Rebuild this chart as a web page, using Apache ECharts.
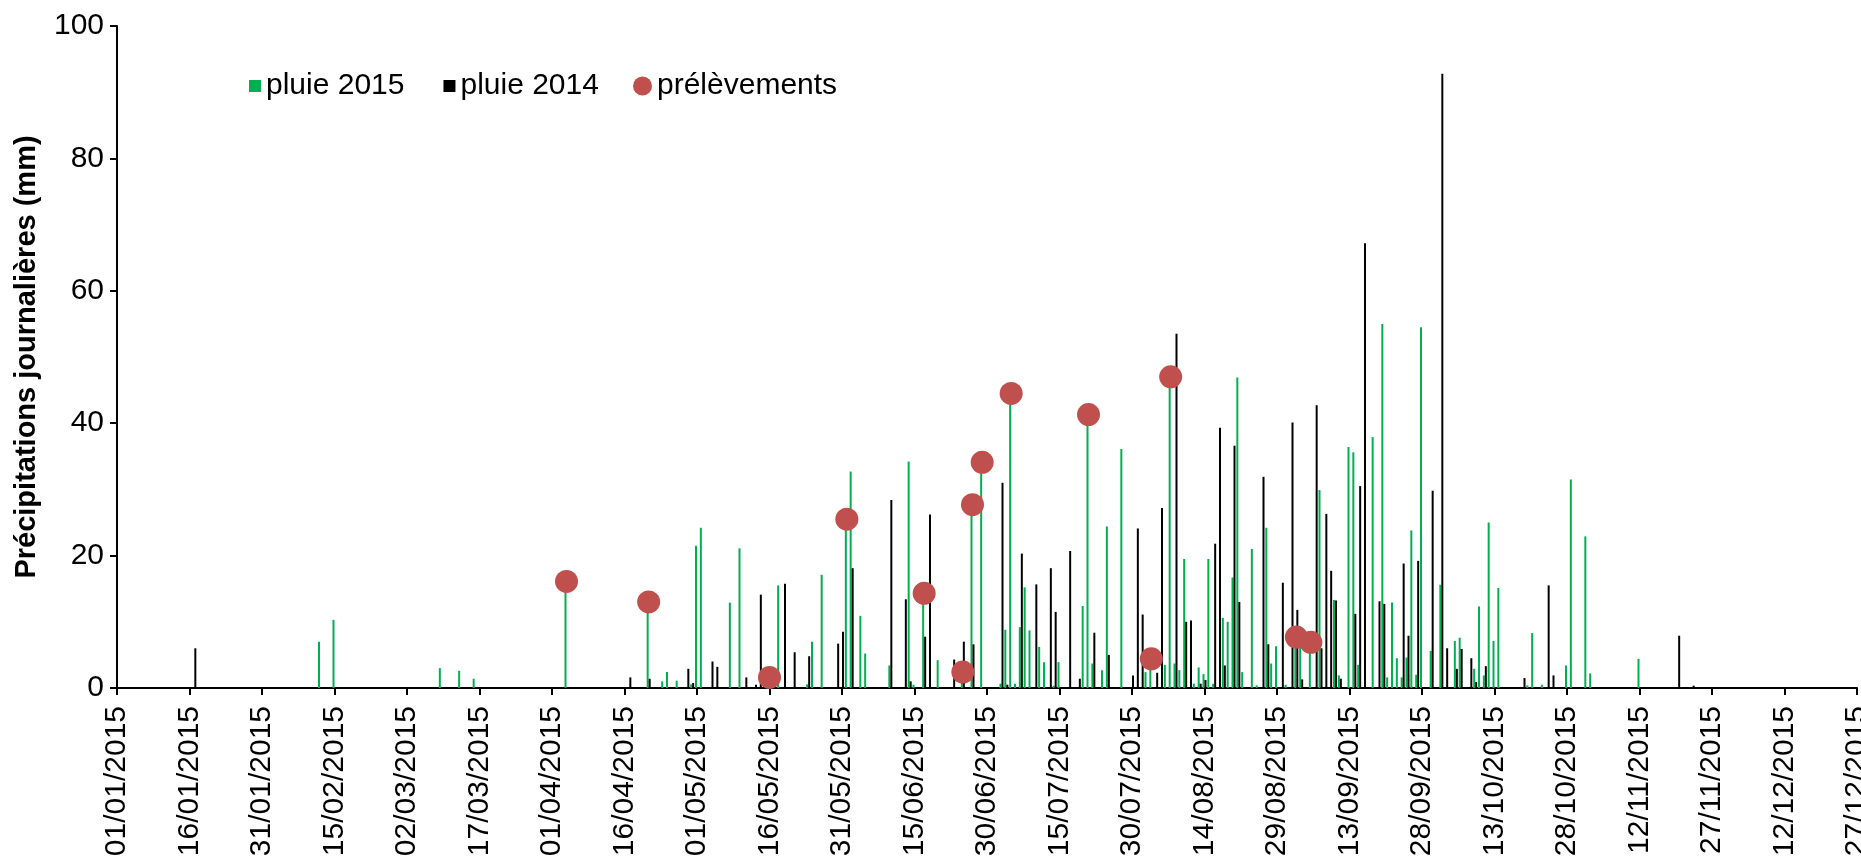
<!DOCTYPE html>
<html>
<head>
<meta charset="utf-8">
<script src="https://cdn.jsdelivr.net/npm/echarts/dist/echarts.min.js"></script>
<style>
html,body{margin:0;padding:0;background:#ffffff;}
#chart{width:1861px;height:857px;}
</style>
</head>
<body>
<div id="chart"></div>
<script>
const YEAR = 2015;

// Daily rainfall 2015 (mm) — [dd/mm, value]
const rain2015 = [
  ['12/02',7.0],['15/02',10.3],['09/03',3.0],['13/03',2.6],['16/03',1.4],['04/04',16.1],['21/04',13.0],
  ['24/04',1.0],['25/04',2.4],['27/04',1.1],['30/04',0.55],['01/05',21.5],['02/05',24.2],['08/05',12.9],
  ['10/05',21.1],['16/05',1.6],['18/05',15.5],['24/05',0.55],['25/05',7.0],['27/05',17.1],['01/06',25.5],
  ['02/06',32.7],['04/06',10.9],['05/06',5.2],['10/06',3.4],['14/06',34.2],['15/06',0.5],['17/06',14.3],
  ['20/06',4.2],['25/06',2.4],['27/06',27.7],['29/06',34.1],['03/07',0.65],['04/07',8.8],['05/07',44.5],
  ['06/07',0.65],['07/07',9.2],['08/07',15.2],['09/07',8.7],['11/07',6.2],['12/07',3.9],['14/07',0.35],
  ['15/07',3.9],['20/07',12.4],['21/07',41.3],['22/07',3.7],['24/07',2.7],['25/07',24.4],['28/07',36.1],
  ['02/08',2.4],['03/08',4.4],['06/08',3.5],['07/08',47.0],['08/08',3.7],['09/08',2.7],['10/08',19.5],
  ['12/08',0.65],['13/08',3.1],['14/08',2.1],['15/08',19.5],['16/08',0.65],['18/08',10.6],['19/08',10.0],
  ['20/08',16.7],['21/08',46.9],['22/08',2.4],['24/08',21.0],['25/08',0.4],['27/08',24.2],['28/08',3.7],
  ['29/08',6.3],['31/08',0.5],['02/09',7.7],['03/09',6.2],['05/09',6.9],['07/09',29.9],['10/09',13.3],
  ['11/09',1.9],['13/09',36.4],['14/09',35.6],['15/09',3.5],['18/09',37.9],['20/09',55.0],['21/09',1.6],
  ['22/09',12.9],['23/09',4.5],['24/09',1.6],['25/09',4.6],['26/09',23.8],['27/09',2.0],['28/09',54.5],
  ['30/09',5.6],['02/10',15.6],['05/10',7.1],['06/10',7.6],['09/10',2.9],['10/10',12.3],['11/10',1.9],
  ['12/10',25.0],['13/10',7.1],['14/10',15.1],['20/10',0.4],['21/10',8.3],['23/10',0.5],['28/10',3.4],
  ['29/10',31.5],['01/11',22.9],['02/11',2.2],['12/11',4.4]
];

// Daily rainfall 2014 (mm) — [dd/mm, value]
const rain2014 = [
  ['17/01',6.0],['17/04',1.6],['21/04',1.4],['29/04',2.9],['30/04',0.75],['04/05',4.0],['05/05',3.2],
  ['11/05',1.6],['13/05',0.5],['14/05',14.1],['19/05',15.75],['21/05',5.4],['24/05',4.8],['30/05',6.7],
  ['31/05',8.5],['02/06',18.1],['10/06',28.4],['13/06',13.4],['14/06',1.0],['17/06',7.75],['18/06',26.2],
  ['23/06',4.3],['25/06',7.0],['27/06',6.6],['03/07',31.0],['04/07',0.5],['07/07',20.3],['10/07',15.65],
  ['13/07',18.1],['14/07',11.5],['17/07',20.7],['19/07',1.4],['22/07',8.35],['25/07',5.0],['30/07',1.9],
  ['31/07',24.1],['01/08',11.1],['04/08',2.3],['05/08',27.2],['08/08',53.5],['10/08',10.0],['11/08',10.2],
  ['13/08',0.65],['14/08',1.2],['16/08',21.8],['17/08',39.3],['18/08',3.4],['20/08',36.6],['21/08',13.0],
  ['26/08',31.9],['27/08',6.6],['30/08',15.9],['01/09',40.1],['02/09',11.8],['03/09',1.3],['06/09',42.7],
  ['07/09',6.0],['08/09',26.3],['09/09',17.7],['10/09',13.2],['11/09',1.4],['14/09',11.2],['15/09',30.5],
  ['16/09',67.2],['19/09',13.1],['20/09',12.7],['24/09',18.8],['25/09',7.9],['27/09',19.2],['30/09',29.8],
  ['02/10',92.8],['03/10',6.0],['05/10',2.9],['06/10',5.9],['08/10',4.5],['09/10',0.9],['11/10',3.3],
  ['19/10',1.5],['24/10',15.5],['25/10',1.9],['20/11',7.9],['23/11',0.35]
];

// Sampling dates (prélèvements) — [dd/mm, value]
const samples = [
  ['04/04',16.1],['21/04',13.0],['16/05',1.6],['01/06',25.5],['17/06',14.3],['25/06',2.4],['27/06',27.7],
  ['29/06',34.1],['05/07',44.5],['21/07',41.3],['03/08',4.4],['07/08',47.0],['02/09',7.7],['05/09',6.9]
];

// X tick labels (every 15 days from 01/01)
const xTickLabels = [
  '01/01/2015','16/01/2015','31/01/2015','15/02/2015','02/03/2015','17/03/2015','01/04/2015',
  '16/04/2015','01/05/2015','16/05/2015','31/05/2015','15/06/2015','30/06/2015','15/07/2015',
  '30/07/2015','14/08/2015','29/08/2015','13/09/2015','28/09/2015','13/10/2015','28/10/2015',
  '12/11/2015','27/11/2015','12/12/2015','27/12/2015'
];
const X_STEP = 15;

function dayIndex(ddmm) {
  const [d, m] = ddmm.split('/').map(Number);
  return Math.round((Date.UTC(YEAR, m - 1, d) - Date.UTC(YEAR, 0, 1)) / 86400000);
}
const toPoints = arr => arr.map(([dt, v]) => [dayIndex(dt), v]);

const FONT = '"Liberation Sans", Arial, sans-serif';
const chart = echarts.init(document.getElementById('chart'), null, {renderer: 'canvas'});

chart.setOption({
  backgroundColor: '#ffffff',
  animation: false,
  textStyle: {fontFamily: FONT},
  grid: {left: 117, right: 4, top: 26, bottom: 169, containLabel: false, outerBoundsMode: 'none'},
  legend: [
    {
      data: ['pluie 2015', 'pluie 2014'],
      left: 244, top: 66, padding: 5,
      icon: 'rect', itemWidth: 12, itemHeight: 12, itemGap: 39,
      textStyle: {fontFamily: FONT, fontSize: 30, color: '#000000'},
      selectedMode: false
    },
    {
      data: ['prélèvements'],
      left: 628, top: 66, padding: 5,
      icon: 'circle', itemWidth: 19, itemHeight: 19,
      textStyle: {fontFamily: FONT, fontSize: 30, color: '#000000'},
      selectedMode: false
    }
  ],
  xAxis: {
    type: 'value',
    min: 0, max: 360, interval: X_STEP,
    splitLine: {show: false},
    axisLine: {show: true, onZero: false, lineStyle: {color: '#000000', width: 2}},
    axisTick: {show: true, inside: false, length: 7, lineStyle: {color: '#000000', width: 2}},
    axisLabel: {
      rotate: 90, margin: 18, fontSize: 30, color: '#000000', fontFamily: FONT,
      formatter: v => xTickLabels[Math.round(v / X_STEP)] || ''
    }
  },
  yAxis: {
    type: 'value',
    min: 0, max: 100, interval: 20,
    name: 'Précipitations journalières (mm)',
    nameLocation: 'middle', nameRotate: 90, nameGap: 76,
    nameTextStyle: {fontFamily: FONT, fontSize: 29, fontWeight: 'bold', color: '#000000'},
    splitLine: {show: false},
    axisLine: {show: true, lineStyle: {color: '#000000', width: 2}},
    axisTick: {show: true, inside: false, length: 7, lineStyle: {color: '#000000', width: 2}},
    axisLabel: {margin: 13, fontSize: 30, color: '#000000', fontFamily: FONT}
  },
  series: [
    {
      name: 'pluie 2015', type: 'bar',
      data: toPoints(rain2015),
      barWidth: 2, barGap: '0%',
      itemStyle: {color: '#00B050'},
      z: 2
    },
    {
      name: 'pluie 2014', type: 'bar',
      data: toPoints(rain2014),
      barWidth: 2, barGap: '0%',
      itemStyle: {color: '#000000'},
      z: 2
    },
    {
      name: 'prélèvements', type: 'scatter',
      data: toPoints(samples),
      symbol: 'circle', symbolSize: 23,
      itemStyle: {color: '#C0504D', opacity: 1},
      z: 5
    }
  ]
});
</script>
</body>
</html>
